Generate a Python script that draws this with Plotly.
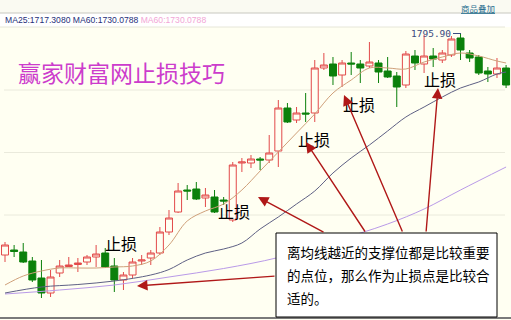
import plotly.graph_objects as go

# ---------------- data ----------------
idx = list(range(56))
opens = [1618.3,1622.3,1620.7,1613.5,1599.9,1587.9,1603.9,1609.1,1610.7,1612.7,
         1616.7,1619.9,1609.5,1598.3,1602.3,1613.5,1615.9,1619.9,1636.7,1652.7,
         1670.3,1671.1,1663.9,1664.7,1662.3,1646.3,1691.9,1691.9,1695.1,1694.3,
         1701.5,1735.9,1726.3,1731.9,1731.9,1767.9,1771.1,1762.3,1771.9,1771.1,
         1769.5,1771.9,1765.5,1761.5,1754.3,1777.5,1771.1,1777.5,1774.3,1778.3,
         1791.9,1779.9,1776.7,1765.5,1763.1,1767.9]
highs = [1628.7,1626.3,1627.9,1616.7,1614.3,1606.3,1614.3,1616.7,1615.9,1618.3,
         1626.3,1623.9,1615.9,1604.7,1615.9,1618.3,1622.3,1640.7,1654.3,1675.9,
         1674.3,1676.7,1671.9,1670.3,1664.7,1692.7,1695.9,1698.3,1696.7,1714.3,
         1742.3,1739.9,1736.7,1747.9,1774.3,1779.9,1776.7,1774.3,1780.7,1774.3,
         1788.7,1774.3,1776.7,1764.7,1781.5,1782.3,1794.3,1783.9,1782.3,1793.5,
         1795.9,1782.3,1778.3,1768.7,1775.9,1770.3]
lows = [1612.7,1616.7,1611.9,1596.7,1583.9,1584.7,1600.7,1608.7,1604.7,1610.3,
        1608.7,1607.9,1588.7,1590.3,1599.9,1610.3,1610.3,1618.3,1634.3,1651.9,
        1662.3,1662.3,1656.7,1651.9,1658.3,1644.7,1684.7,1687.9,1686.3,1691.9,
        1688.7,1723.9,1723.9,1724.7,1724.7,1766.3,1754.3,1752.7,1762.3,1755.9,
        1767.9,1755.9,1759.9,1736.7,1751.9,1766.3,1763.9,1768.7,1771.9,1776.7,
        1774.3,1772.7,1762.3,1756.7,1759.9,1751.9]
closes = [1626.3,1621.1,1612.7,1598.3,1587.9,1600.7,1609.5,1610.3,1611.9,1616.7,
          1619.1,1608.7,1598.3,1602.3,1612.7,1614.3,1619.9,1636.7,1647.9,1669.5,
          1669.5,1663.1,1666.3,1652.7,1661.5,1690.3,1692.7,1695.1,1694.3,1699.9,
          1735.9,1724.7,1731.9,1731.1,1767.9,1770.3,1761.5,1771.9,1771.1,1767.9,
          1772.7,1764.7,1760.7,1752.7,1779.1,1771.9,1777.5,1775.1,1779.9,1791.1,
          1782.3,1775.9,1763.9,1763.1,1767.9,1754.3]

ma25_x = [0,2,4,6,8,10,12,14,16,18,20,22,24,26,28,30,32,34,36,38,40,42,44,46,48,50,52,54,55]
ma25_y = [1594.3,1601.5,1605.5,1607.9,1607.9,1607.9,1608.7,1609.5,1613.5,1626.3,1645.5,1653.5,
          1659.1,1670.3,1685.5,1700.7,1715.9,1731.1,1747.9,1758.3,1767.9,1767.9,1767.1,1772.7,
          1776.7,1779.9,1777.5,1773.5,1771.9]
ma60_x = [0,4,8,12,16,18,20,22,24,26,28,30,32,34,36,38,40,42,44,46,48,50,52,54,55]
ma60_y = [1587.9,1592.7,1594.7,1597.5,1602.3,1606.7,1614.3,1619.9,1623.1,1627.9,1639.1,1648.7,
          1659.1,1669.5,1683.9,1695.9,1706.3,1717.5,1728.7,1736.7,1744.7,1751.9,1756.7,1763.1,1764.7]
ma3_x = [0,6,12,18,24,30,36,42,46,50,55]
ma3_y = [1587.1,1590.3,1594.3,1600.7,1607.5,1616.3,1629.1,1643.1,1655.1,1670.3,1688.7]

title_text = "赢家财富网止损技巧"
legend_a = "MA25:1717.3080 MA60:1730.0788"
legend_b = "MA60:1730.0788"
peak_label = "1795.90"
link_text = "商品叠加"
stop_label = "止损"
note_lines = ["离均线越近的支撑位都是比较重要", "的点位，那么作为止损点是比较合", "适的。"]

# ---------------- figure ----------------
W, H = 511, 320
BG = "#FFFFF2"

def px(x):
    return x / W

def py(y):
    return 1 - y / H

fig = go.Figure()
fig.add_trace(go.Scatter(x=ma3_x, y=ma3_y, mode="lines", line=dict(color="#B99AE8", width=1, shape="spline"), hoverinfo="skip"))
fig.add_trace(go.Scatter(x=ma60_x, y=ma60_y, mode="lines", line=dict(color="#5E6084", width=1, shape="spline"), hoverinfo="skip"))
fig.add_trace(go.Scatter(x=ma25_x, y=ma25_y, mode="lines", line=dict(color="#CFA07A", width=1, shape="spline"), hoverinfo="skip"))
fig.add_trace(go.Candlestick(
    x=idx, open=opens, high=highs, low=lows, close=closes,
    increasing=dict(line=dict(color="#E24A4A", width=1), fillcolor=BG),
    decreasing=dict(line=dict(color="#0B800B", width=1), fillcolor="#0B800B"),
    whiskerwidth=0, hoverinfo="skip"))

shapes = []
# header strips
shapes.append(dict(type="rect", xref="paper", yref="paper", x0=0, x1=1, y0=py(13), y1=1,
                   fillcolor="#FAFAF2", line=dict(width=0), layer="below"))
shapes.append(dict(type="rect", xref="paper", yref="paper", x0=0, x1=1, y0=py(27), y1=py(13),
                   fillcolor="#FFFFFF", line=dict(width=0), layer="below"))
shapes.append(dict(type="line", xref="paper", yref="paper", x0=0, x1=1, y0=py(13), y1=py(13),
                   line=dict(color="#C8C8C0", width=1), layer="below"))
shapes.append(dict(type="line", xref="paper", yref="paper", x0=0, x1=px(505), y0=py(27), y1=py(27),
                   line=dict(color="#E6E6D8", width=1), layer="below"))
for gy in [90, 152.5, 215]:
    shapes.append(dict(type="line", xref="paper", yref="paper", x0=px(4), x1=px(505), y0=py(gy), y1=py(gy),
                       line=dict(color="#EAEADC", width=1), layer="below"))
shapes.append(dict(type="line", xref="paper", yref="paper", x0=0, x1=1, y0=py(318), y1=py(318),
                   line=dict(color="#7A7A7A", width=2)))
# peak leader
shapes.append(dict(type="line", xref="paper", yref="paper", x0=px(453), x1=px(461), y0=py(33.5), y1=py(33.5),
                   line=dict(color="#3A4A80", width=1)))
# note box
shapes.append(dict(type="rect", xref="paper", yref="paper", x0=px(276), x1=px(497), y0=py(317), y1=py(233),
                   fillcolor="#FFFFFF", line=dict(color="#000000", width=1)))

ann = []
ann.append(dict(xref="paper", yref="paper", x=px(3), y=py(20), xanchor="left", yanchor="middle", showarrow=False,
                text=f"<span style='color:#26307A'>{legend_a}</span> <span style='color:#F2A6D6'>{legend_b}</span>",
                font=dict(family="Liberation Sans, Arial", size=8.6)))
ann.append(dict(xref="paper", yref="paper", x=px(497), y=py(7.5), xanchor="right", yanchor="middle", showarrow=False,
                text=f"<u>{link_text}</u>", font=dict(family="Noto Sans CJK SC", size=8.5, color="#2A7090")))
ann.append(dict(xref="paper", yref="paper", x=px(16), y=py(72), xanchor="left", yanchor="middle", showarrow=False,
                text=title_text, font=dict(family="Noto Sans CJK SC", size=23, color="#CC3CCC")))
ann.append(dict(xref="paper", yref="paper", x=px(453), y=py(33), xanchor="right", yanchor="middle", showarrow=False,
                text=peak_label, font=dict(family="DejaVu Sans Mono", size=9.5, color="#3A4A80")))
for (lx, ly) in [(121, 243), (234, 211), (314, 139), (359, 104), (440, 79)]:
    ann.append(dict(xref="paper", yref="paper", x=px(lx), y=py(ly), xanchor="center", yanchor="middle", showarrow=False,
                    text=stop_label, font=dict(family="Noto Sans CJK SC", size=16, color="#000000")))
# arrows: head (x,y), tail offset (ax,ay)
for (hx, hy, tx, ty) in [(137, 286, 276, 276), (258, 197, 325, 233), (306, 142, 366, 233),
                         (344, 95, 403, 233), (438, 88, 426, 233)]:
    ann.append(dict(xref="paper", yref="paper", x=px(hx), y=py(hy), ax=tx - hx, ay=ty - hy,
                    showarrow=True, text="", arrowhead=2, arrowsize=1.5, arrowwidth=1.4,
                    arrowcolor="#B01818", standoff=0))
for k, line in enumerate(note_lines):
    ann.append(dict(xref="paper", yref="paper", x=px(285), y=py(252 + 23 * k), xanchor="left", yanchor="middle",
                    showarrow=False, text=line, font=dict(family="Noto Sans CJK SC", size=13.5, color="#000000")))

fig.update_layout(
    width=W, height=H, margin=dict(l=0, r=0, t=0, b=0),
    paper_bgcolor=BG, plot_bgcolor=BG, showlegend=False,
    shapes=shapes, annotations=ann,
    boxgap=0.1, boxgroupgap=0.15,
    xaxis=dict(range=[-0.549, 55.54], visible=False, showgrid=False, zeroline=False,
               rangeslider=dict(visible=False), fixedrange=True),
    yaxis=dict(range=[1566.3, 1822.3], visible=False, showgrid=False, zeroline=False, fixedrange=True),
)
fig.write_html("out.html", config={"displayModeBar": False})
